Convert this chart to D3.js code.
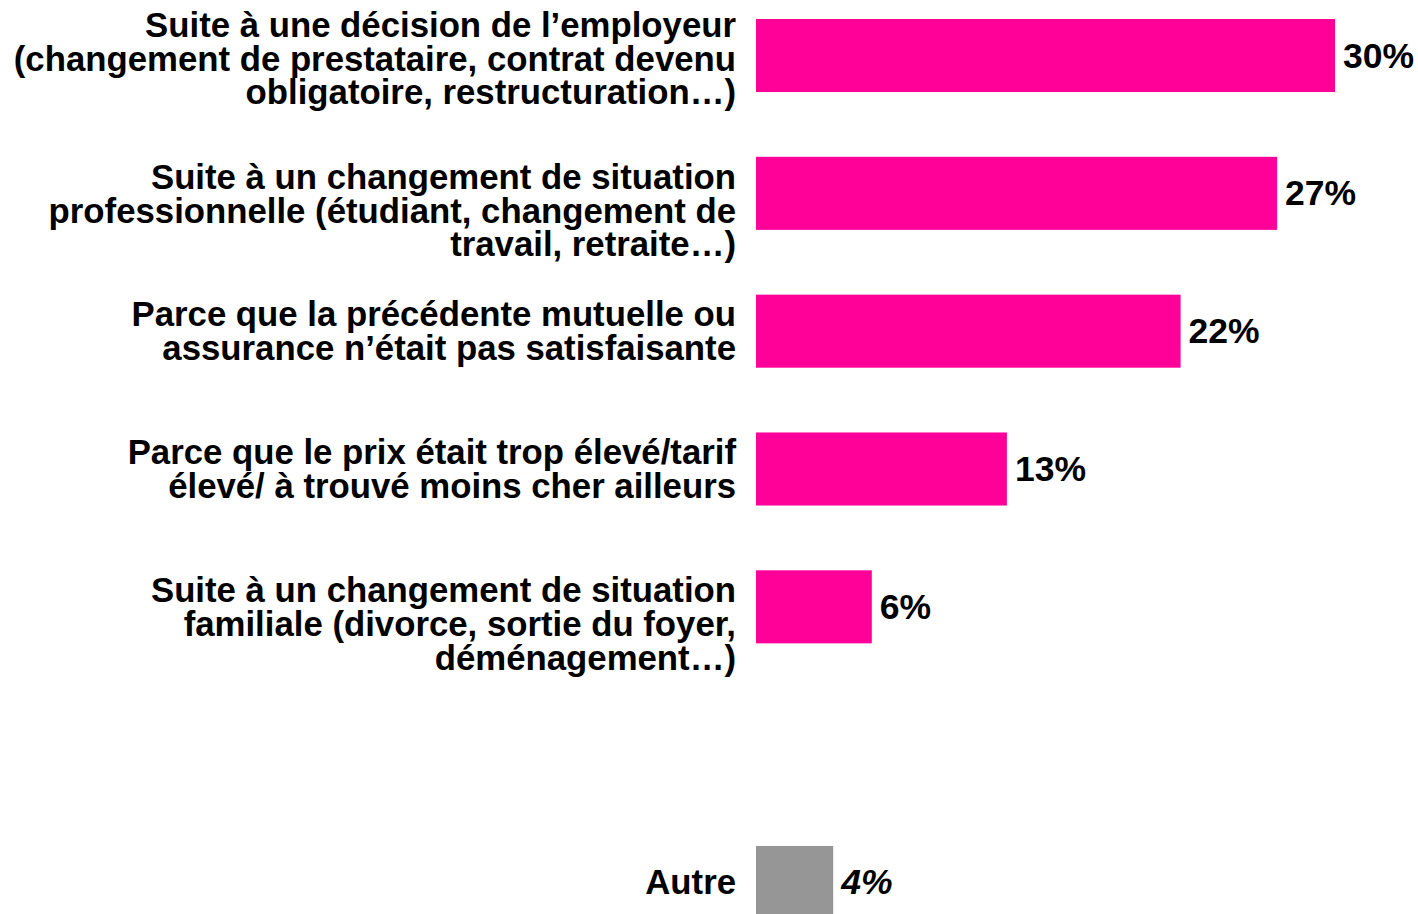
<!DOCTYPE html>
<html>
<head>
<meta charset="utf-8">
<script src="https://cdn.jsdelivr.net/npm/d3@7.9.0/dist/d3.min.js"></script>
<style>
  body { margin: 0; background: #fff; }
  svg { display: block; font-family: "Liberation Sans", Arial, sans-serif; font-weight: bold; }
</style>
</head>
<body>
<svg id="chart" width="1418" height="914"></svg>
<script>
// Data
const categories = [
  "Suite à une décision de l’employeur\n(changement de prestataire, contrat devenu\nobligatoire, restructuration…)",
  "Suite à un changement de situation\nprofessionnelle (étudiant, changement de\ntravail, retraite…)",
  "Parce que la précédente mutuelle ou\nassurance n’était pas satisfaisante",
  "Parce que le prix était trop élevé/tarif\nélevé/ à trouvé moins cher ailleurs",
  "Suite à un changement de situation\nfamiliale (divorce, sortie du foyer,\ndéménagement…)",
  "",
  "Autre"
];
const values = [30, 27, 22, 13, 6, null, 4];
const isOther = [false, false, false, false, false, false, true];

const svg = d3.select('#chart');
const fontSize = 34.75;
const valSize = 35.5;
const lineH = 33.7;

// scales
const y = d3.scaleBand()
  .domain(d3.range(categories.length))
  .range([19, 919])
  .paddingInner(0.47)
  .paddingOuter(0);

const x = d3.scaleLinear()
  .domain([0, 30])
  .range([756, 1335]);

const rows = categories.map((c, i) => ({ label: c, value: values[i], other: isOther[i], i }))
  .filter(d => d.value !== null);

// bars
svg.selectAll('rect.bar')
  .data(rows)
  .join('rect')
  .attr('class', 'bar')
  .attr('x', x(0))
  .attr('y', d => y(d.i))
  .attr('width', d => x(d.value) - x(0))
  .attr('height', y.bandwidth())
  .attr('fill', d => d.other ? '#969696' : '#FF0099');

// value labels
svg.selectAll('text.val')
  .data(rows)
  .join('text')
  .attr('class', 'val')
  .attr('x', d => x(d.value) + 8)
  .attr('y', d => y(d.i) + y.bandwidth() / 2 + 12)
  .attr('font-size', valSize)
  .attr('font-style', d => d.other ? 'italic' : 'normal')
  .attr('fill', '#000')
  .text(d => d.value + '%');

// category labels, right aligned before the bars
const labels = svg.selectAll('text.cat')
  .data(rows)
  .join('text')
  .attr('class', 'cat')
  .attr('text-anchor', 'end')
  .attr('font-size', fontSize)
  .attr('fill', '#000');

labels.each(function (d) {
  const lines = d.label.split('\n');
  const mid = y(d.i) + y.bandwidth() / 2;
  // multi-line labels hang from the bar top, the first one sits higher
  let first;
  if (lines.length === 1) first = mid + 12;
  else if (lines.length === 2) first = mid - lineH / 2 + 12;
  else first = d.i === 0 ? y(d.i) + 18 : y(d.i) + 32;
  d3.select(this).selectAll('tspan')
    .data(lines)
    .join('tspan')
    .attr('x', 736)
    .attr('y', (l, k) => first + k * lineH)
    .text(l => l);
});
</script>
</body>
</html>
